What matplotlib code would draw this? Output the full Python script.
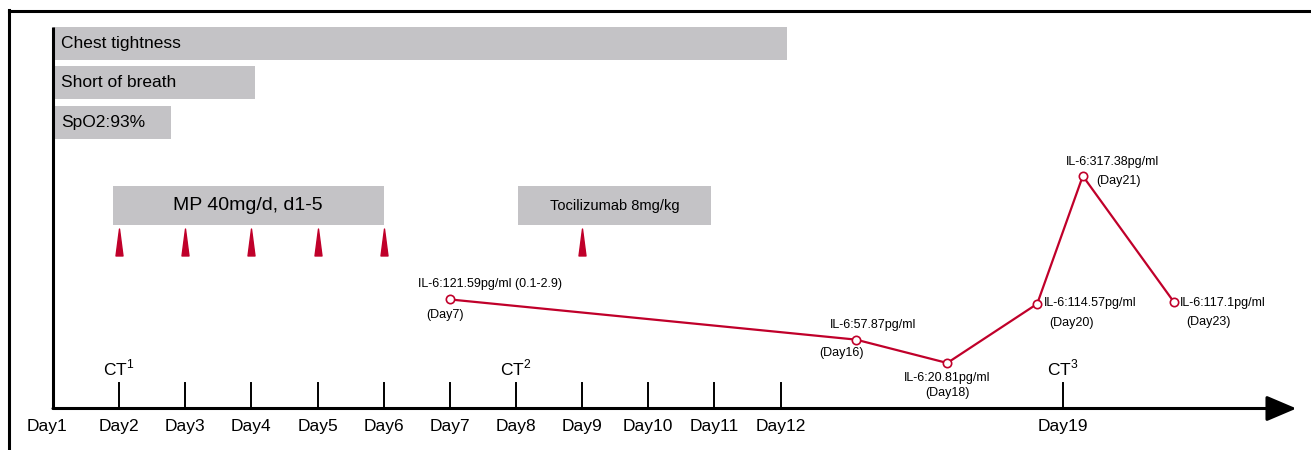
import matplotlib
matplotlib.use('Agg')
import matplotlib.pyplot as plt
from matplotlib.path import Path
from matplotlib.lines import Line2D

plt.rcParams['font.family'] = ['Liberation Sans', 'DejaVu Sans']
plt.rcParams['mathtext.fontset'] = 'custom'
plt.rcParams['mathtext.rm'] = 'Liberation Sans'

# timeline ticks: position on the drawn axis and label
day_labels = ['Day1', 'Day2', 'Day3', 'Day4', 'Day5', 'Day6', 'Day7', 'Day8',
              'Day9', 'Day10', 'Day11', 'Day12', 'Day19']
day_pos = [1, 2, 3, 4, 5, 6, 7, 8, 9, 10, 11, 12, 16.27]

# symptom bars (all start at Day1)
symptoms = ['Chest tightness', 'Short of breath', 'SpO2:93%']
symptom_end = [12.1, 4.05, 2.78]

# treatments
treat_labels = ['MP 40mg/d, d1-5', 'Tocilizumab 8mg/kg']
treat_start = [1.9, 8.03]
treat_end = [6.0, 10.95]
dose_pos = [2, 3, 4, 5, 6, 9]

# CT scans
ct_labels = ['1', '2', '3']
ct_pos = [2, 8, 16.27]

# IL-6 measurements
il6_days = ['Day7', 'Day16', 'Day18', 'Day20', 'Day21', 'Day23']
il6_pos = [7.0, 13.14, 14.52, 15.88, 16.57, 17.95]
il6_vals = [121.59, 57.87, 20.81, 114.57, 317.38, 117.1]

RED = '#c0002a'
GREY = '#c4c3c6'

fig = plt.figure(figsize=(13.11, 4.5), dpi=100)
ax = fig.add_axes([0, 0, 1, 1])
ax.set_xlim(0.1987, 20.02)
ax.set_ylim(450, 0)   # layout in pixels from the top
ax.axis('off')

# outer frame (left and top edges)
fig.add_artist(Line2D([9 / 1311, 9 / 1311], [0, 1 - 10 / 450], color='k', lw=2.2))
fig.add_artist(Line2D([9 / 1311, 1], [1 - 10.5 / 450, 1 - 10.5 / 450], color='k', lw=2.2))

# symptom bars
rows_y = [43.5, 82.5, 122.5]
for name, end, y in zip(symptoms, symptom_end, rows_y):
    ax.barh(y, end - 1, left=1, height=33, color=GREY)
    ax.annotate(name, (1, y), xytext=(8, 0), textcoords='offset pixels',
                va='center', ha='left', fontsize=12.5)

# treatment boxes
for name, s, e, fs in zip(treat_labels, treat_start, treat_end, [14, 10.5]):
    ax.barh(205.5, e - s, left=s, height=39, color=GREY)
    ax.text((s + e) / 2, 206, name, ha='center', va='center', fontsize=fs)

# dose triangles
tri = Path([(-0.13, -0.5), (0.13, -0.5), (0, 0.5), (-0.13, -0.5)],
           [Path.MOVETO, Path.LINETO, Path.LINETO, Path.CLOSEPOLY])
ax.plot(dose_pos, [241.5] * len(dose_pos), ls='none', marker=tri,
        markersize=19.4, color=RED, mec=RED)

# vertical axis and timeline
ax.plot([1, 1], [27, 409], color='k', lw=2.2, solid_capstyle='butt')
ax.annotate('', xy=(19.8, 408.5), xytext=(1, 408.5),
            arrowprops=dict(arrowstyle='-|>,head_length=0.4,head_width=0.17',
                            mutation_scale=46, color='k', lw=2.2,
                            shrinkA=0, shrinkB=0))
for lab, p in zip(day_labels, day_pos):
    if p != 1:
        ax.plot([p, p], [383, 409], color='k', lw=1.4)
    dx = -6 if p == 1 else 0
    ax.annotate(lab, (p, 427), xytext=(dx, 0), textcoords='offset pixels',
                ha='center', va='center', fontsize=12.5)

for lab, p in zip(ct_labels, ct_pos):
    ax.text(p, 368, 'CT$^{' + lab + '}$', ha='center', va='center', fontsize=12.5)

# IL-6 curve on its own value scale
ax2 = ax.twinx()
ax2.set_position([0, 0, 1, 1])
ax2.set_ylim(-117.2, 596.5)
ax2.axis('off')
ax2.plot(il6_pos, il6_vals, color=RED, lw=1.6, marker='o', markersize=6,
         mfc='white', mec=RED, mew=1.2)

# (value label offset, value align, day label offset) in pixels
offsets = [((40, 15), 'center', (-5, -16)),
           ((17, 15), 'center', (-14, -13)),
           ((0, -15), 'center', (0, -30)),
           ((7, 1), 'left', (34, -19)),
           ((30, 14), 'center', (36, -5)),
           ((6, -1), 'left', (34, -20))]
for i, (p, v, d) in enumerate(zip(il6_pos, il6_vals, il6_days)):
    (o1, ha1, o2) = offsets[i]
    txt = f'IL-6:{v:g}pg/ml' + (' (0.1-2.9)' if i == 0 else '')
    ax2.annotate(txt, (p, v), xytext=o1, textcoords='offset pixels',
                 ha=ha1, va='center', fontsize=9)
    ax2.annotate(f'({d})', (p, v), xytext=o2, textcoords='offset pixels',
                 ha='center', va='center', fontsize=9)

fig.savefig('out.png', dpi=100)
